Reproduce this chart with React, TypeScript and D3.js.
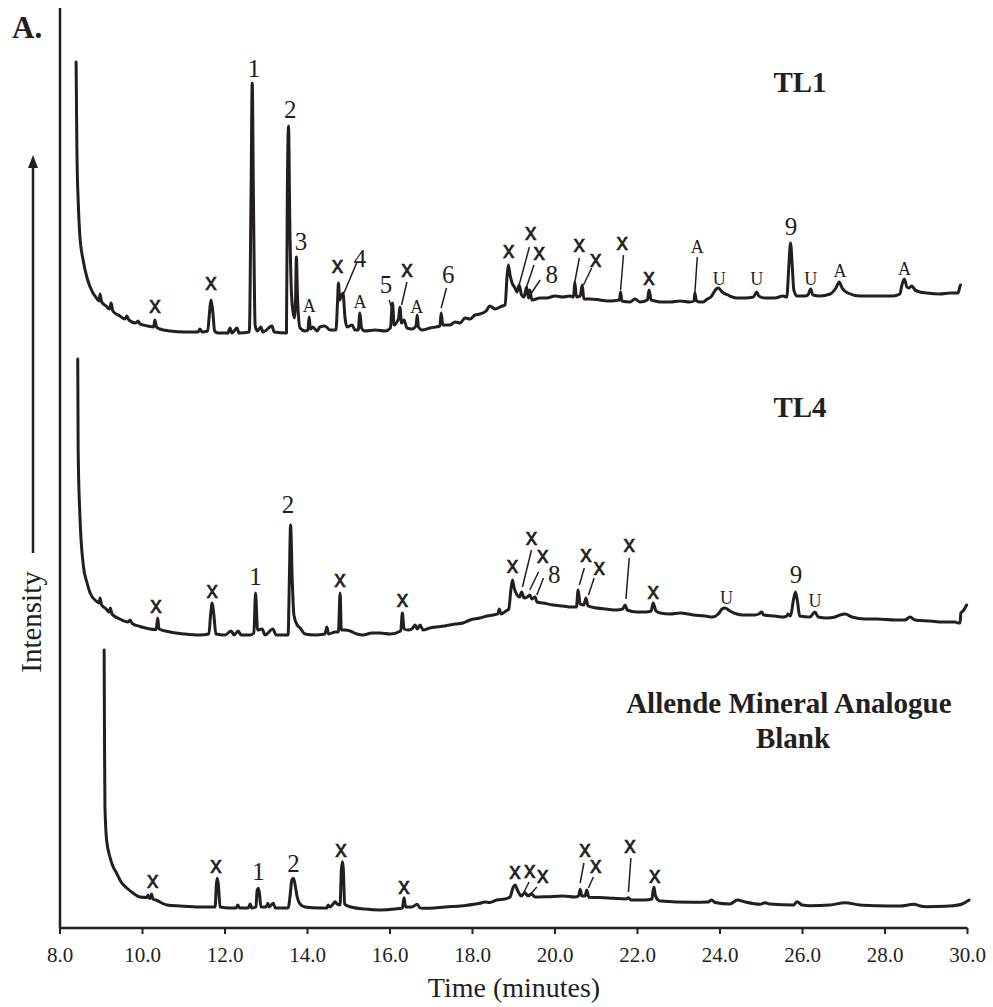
import React from "react";
import * as d3 from "d3";

// ---------- DATA (time in minutes, intensity in arbitrary stacked units) ----------
const xTicks = [8, 10, 12, 14, 16, 18, 20, 22, 24, 26, 28, 30];

const tl1Trace: [number, number][] = [
  [8.39, 866], [8.41, 778], [8.44, 728], [8.48, 693], [8.56, 668], [8.65, 651], [8.73, 641],
  [8.9, 629], [8.95, 627], [8.97, 634], [9.01, 626], [9.12, 622], [9.2, 619], [9.24, 625],
  [9.28, 617], [9.45, 612], [9.58, 609], [9.62, 612], [9.67, 608], [9.84, 605], [9.89, 607],
  [9.94, 604], [10.13, 602], [10.27, 601], [10.3, 608], [10.34, 601], [10.42, 599], [10.67, 597],
  [11.03, 596], [11.35, 596], [11.39, 599], [11.44, 596], [11.58, 597], [11.63, 618], [11.66, 628],
  [11.7, 618], [11.75, 597], [11.83, 595], [12.07, 595], [12.12, 600], [12.17, 595], [12.29, 600],
  [12.34, 595], [12.59, 596], [12.63, 728], [12.66, 845], [12.69, 728], [12.73, 603], [12.78, 597],
  [12.87, 601], [12.92, 596], [13.14, 602], [13.19, 596], [13.49, 595], [13.51, 728], [13.54, 802],
  [13.57, 708], [13.62, 628], [13.68, 610], [13.71, 628], [13.73, 671], [13.76, 628], [13.82, 600],
  [13.94, 597], [14.01, 598], [14.04, 611], [14.07, 599], [14.13, 601], [14.23, 597], [14.3, 601],
  [14.42, 602], [14.55, 598], [14.69, 598], [14.73, 628], [14.75, 645], [14.78, 628], [14.81, 631],
  [14.86, 635], [14.91, 610], [14.96, 601], [15.08, 603], [15.15, 598], [15.23, 598], [15.27, 615],
  [15.31, 600], [15.39, 597], [15.64, 598], [15.88, 597], [16.01, 600], [16.06, 625], [16.1, 603],
  [16.15, 605], [16.21, 610], [16.24, 621], [16.28, 605], [16.34, 608], [16.41, 600], [16.53, 599],
  [16.63, 602], [16.66, 613], [16.69, 601], [16.78, 598], [16.97, 600], [17.21, 602], [17.24, 615],
  [17.28, 603], [17.45, 603], [17.58, 606], [17.7, 605], [17.82, 610], [17.94, 609], [18.06, 613],
  [18.18, 614], [18.33, 617], [18.42, 622], [18.55, 619], [18.72, 622], [18.79, 623], [18.84, 653],
  [18.87, 663], [18.91, 653], [18.96, 645], [19.03, 640], [19.08, 636], [19.13, 643], [19.19, 633],
  [19.25, 631], [19.31, 641], [19.36, 630], [19.39, 638], [19.44, 628], [19.64, 630], [19.8, 630],
  [20.0, 632], [20.19, 631], [20.36, 632], [20.45, 631], [20.48, 646], [20.52, 631], [20.61, 632],
  [20.66, 643], [20.7, 629], [20.85, 629], [21.09, 628], [21.33, 627], [21.56, 628], [21.59, 636],
  [21.62, 627], [21.82, 626], [21.94, 629], [22.06, 626], [22.24, 628], [22.28, 638], [22.33, 628],
  [22.42, 627], [22.55, 626], [22.79, 626], [23.03, 627], [23.27, 626], [23.37, 627], [23.39, 635],
  [23.43, 627], [23.52, 626], [23.59, 626], [23.69, 629], [23.78, 631], [23.91, 639], [23.96, 640],
  [24.05, 636], [24.19, 633], [24.4, 630], [24.61, 630], [24.81, 631], [24.89, 636], [24.94, 632],
  [25.09, 630], [25.33, 630], [25.53, 632], [25.62, 631], [25.67, 663], [25.71, 685], [25.75, 663],
  [25.79, 638], [25.87, 632], [26.06, 632], [26.13, 633], [26.2, 639], [26.25, 633], [26.42, 632],
  [26.67, 634], [26.81, 640], [26.89, 646], [26.96, 640], [27.1, 635], [27.39, 632], [27.76, 632],
  [28.19, 632], [28.36, 634], [28.41, 643], [28.47, 649], [28.53, 641], [28.58, 640], [28.65, 642],
  [28.73, 638], [28.85, 636], [29.01, 635], [29.33, 634], [29.58, 635], [29.77, 635], [29.82, 642],
  [29.83, 643],
];

const tl4Trace: [number, number][] = [
  [8.43, 569], [8.44, 478], [8.48, 415], [8.57, 361], [8.65, 346], [8.73, 335], [8.89, 326.5],
  [8.95, 325], [8.97, 330], [9.01, 323], [9.12, 319], [9.19, 316], [9.22, 320], [9.26, 314],
  [9.45, 309], [9.65, 306], [9.7, 308], [9.75, 304.5], [9.94, 301.5], [10.18, 299], [10.33, 298.5],
  [10.37, 310], [10.4, 299], [10.67, 296], [11.03, 294], [11.39, 293], [11.61, 294], [11.65, 313],
  [11.69, 325], [11.73, 313], [11.78, 294], [12.0, 293], [12.15, 297], [12.22, 293], [12.32, 297],
  [12.39, 293], [12.61, 293], [12.7, 295], [12.74, 335], [12.79, 298], [12.9, 299], [12.97, 293],
  [13.16, 299], [13.24, 293], [13.53, 293], [13.56, 348], [13.59, 403], [13.63, 348], [13.67, 313],
  [13.75, 303], [13.82, 300], [13.94, 294], [14.18, 293], [14.42, 294], [14.47, 301], [14.51, 294],
  [14.67, 296], [14.75, 296], [14.79, 335], [14.82, 298], [14.91, 298], [15.03, 297], [15.2, 294],
  [15.35, 293], [15.56, 295], [15.76, 295], [16.0, 294], [16.26, 297], [16.3, 315], [16.34, 299],
  [16.44, 298], [16.53, 299], [16.61, 303], [16.66, 299], [16.73, 303], [16.8, 298], [16.97, 300],
  [17.33, 302], [17.58, 304], [17.77, 305], [17.94, 308], [18.18, 310], [18.35, 312], [18.5, 313],
  [18.61, 314], [18.65, 319], [18.69, 314], [18.81, 317], [18.88, 319], [18.93, 338], [18.97, 348],
  [19.01, 340], [19.08, 333], [19.14, 331], [19.19, 336], [19.25, 330], [19.33, 331], [19.39, 333],
  [19.44, 329], [19.52, 331], [19.56, 326], [19.71, 325], [19.95, 323], [20.19, 322], [20.42, 321],
  [20.52, 321], [20.56, 338], [20.61, 324], [20.7, 323], [20.75, 330], [20.8, 322], [21.01, 320],
  [21.24, 319], [21.49, 318], [21.64, 319], [21.7, 323], [21.75, 318], [21.98, 316], [22.21, 316],
  [22.33, 317], [22.38, 325], [22.45, 317], [22.55, 315], [22.79, 314], [23.03, 315], [23.35, 313],
  [23.64, 312], [23.81, 311], [23.96, 314], [24.05, 319], [24.12, 320], [24.24, 317], [24.41, 314],
  [24.55, 313], [24.84, 313], [24.94, 314], [25.01, 316], [25.06, 313], [25.33, 312], [25.53, 311],
  [25.62, 312], [25.65, 314], [25.71, 312], [25.78, 328], [25.83, 336], [25.88, 326], [25.93, 312],
  [26.18, 311], [26.25, 314], [26.3, 316], [26.38, 311], [26.59, 310], [26.79, 311], [26.91, 313],
  [27.03, 314], [27.2, 311], [27.52, 309], [27.8, 309], [28.24, 308], [28.48, 308], [28.61, 311],
  [28.73, 308], [29.09, 307], [29.41, 306], [29.58, 306], [29.7, 306], [29.77, 305], [29.82, 305],
  [29.84, 315], [29.89, 317], [29.98, 323],
];

const blankTrace: [number, number][] = [
  [9.07, 278], [9.08, 178], [9.09, 121], [9.13, 88], [9.21, 71], [9.28, 62], [9.37, 55], [9.48, 46],
  [9.62, 40], [9.77, 35], [9.94, 31], [10.11, 30.5], [10.13, 33], [10.17, 29.5], [10.21, 32],
  [10.22, 34], [10.25, 29], [10.33, 28], [10.42, 26], [10.59, 23], [10.91, 22], [11.39, 21],
  [11.64, 21], [11.76, 21], [11.79, 43], [11.81, 49.7], [11.84, 43], [11.88, 21], [12.12, 20],
  [12.27, 20], [12.31, 23], [12.35, 20], [12.56, 20], [12.61, 24], [12.65, 20], [12.75, 21],
  [12.78, 38], [12.81, 39.7], [12.84, 33], [12.87, 21], [12.99, 21], [13.04, 24.7], [13.07, 21],
  [13.17, 24.7], [13.22, 20], [13.53, 20], [13.58, 33], [13.62, 48], [13.66, 49.7], [13.7, 43],
  [13.75, 31], [13.82, 24], [13.94, 21], [14.3, 20], [14.47, 20], [14.5, 23], [14.55, 21],
  [14.62, 24], [14.67, 26.3], [14.72, 24], [14.79, 23], [14.82, 58], [14.85, 66.3], [14.87, 58],
  [14.9, 24], [15.03, 21.3], [15.39, 19], [15.76, 18], [16.12, 19], [16.3, 20], [16.34, 30.3],
  [16.38, 21], [16.53, 21], [16.66, 23.7], [16.73, 20], [16.97, 19.7], [17.33, 21], [17.77, 22.3],
  [18.18, 24.7], [18.3, 26], [18.42, 25.5], [18.59, 28], [18.79, 29], [18.91, 31], [18.98, 40],
  [19.03, 43], [19.1, 37], [19.18, 32], [19.27, 35.3], [19.345, 32], [19.43, 34], [19.52, 31],
  [19.8, 31.3], [20.2, 32], [20.48, 31], [20.57, 32], [20.61, 38.7], [20.65, 32], [20.73, 32],
  [20.77, 38], [20.82, 30.7], [21.09, 30.5], [21.41, 29.7], [21.72, 29], [21.78, 30.3], [21.84, 28],
  [22.18, 28], [22.35, 29], [22.38, 38], [22.4, 40.7], [22.43, 33], [22.5, 28], [22.55, 27],
  [23.35, 25.7], [23.71, 26], [23.8, 28], [23.88, 25.5], [24.24, 24], [24.42, 28], [24.61, 26],
  [24.97, 23.7], [25.09, 25.3], [25.21, 24], [25.78, 23], [25.87, 26.3], [25.99, 23], [26.18, 22.3],
  [26.67, 23], [27.03, 25.3], [27.39, 23], [27.8, 22.3], [28.36, 22], [28.7, 23.7], [28.85, 22],
  [29.01, 21.3], [29.45, 21.7], [29.65, 22.3], [29.87, 24], [30.04, 28],
];

// peak labels: [text, time, intensity(baseline of text)]
const tl1Labels: [string, number, number][] = [
  ["1", 12.7, 851], ["2", 13.58, 810], ["3", 13.84, 678], ["x", 10.3, 615], ["x", 11.66, 638],
  ["A", 14.04, 616], ["x", 14.73, 655], ["4", 15.27, 661], ["A", 15.27, 620], ["5", 15.9, 635],
  ["x", 16.41, 651], ["A", 16.65, 615], ["6", 17.41, 645], ["x", 18.88, 670], ["x", 19.41, 688],
  ["x", 19.62, 668], ["8", 19.92, 645], ["x", 20.59, 676], ["x", 20.99, 661], ["x", 21.63, 678],
  ["x", 22.28, 643], ["A", 23.45, 675], ["U", 23.98, 643], ["U", 24.89, 643], ["9", 25.72, 693],
  ["U", 26.2, 643], ["A", 26.91, 651], ["A", 28.47, 653],
];
const tl4Labels: [string, number, number][] = [
  ["x", 10.33, 315], ["x", 11.69, 330], ["1", 12.74, 343], ["2", 13.53, 415], ["x", 14.79, 341],
  ["x", 16.3, 321], ["x", 18.97, 355], ["x", 19.43, 383], ["x", 19.7, 365], ["8", 19.98, 345],
  ["x", 20.75, 366], ["x", 21.07, 353], ["x", 21.8, 376], ["x", 22.38, 329], ["U", 24.16, 324],
  ["9", 25.84, 345], ["U", 26.3, 321],
];
const blankLabels: [string, number, number][] = [
  ["x", 10.25, 40], ["x", 11.78, 55], ["1", 12.81, 48], ["2", 13.66, 56], ["x", 14.81, 71],
  ["x", 16.34, 34], ["x", 19.03, 49], ["x", 19.39, 50], ["x", 19.7, 45], ["x", 20.73, 71],
  ["x", 20.99, 55], ["x", 21.82, 75], ["x", 22.42, 45],
];

// leader lines: [t1, v1, t2, v2]
const tl1Leaders: [number, number, number, number][] = [
  [15.19, 665, 14.885, 635], [15.98, 628, 16.04, 620], [16.41, 646, 16.28, 623],
  [17.37, 640, 17.24, 620], [19.38, 681, 19.13, 643], [19.49, 663, 19.31, 641],
  [19.64, 648, 19.43, 635], [20.59, 670, 20.48, 646], [20.89, 660, 20.69, 643],
  [21.66, 673, 21.59, 638], [23.45, 671, 23.39, 635],
];
const tl4Leaders: [number, number, number, number][] = [
  [19.43, 378, 19.21, 341], [19.6, 356, 19.39, 338], [19.72, 350, 19.56, 333],
  [20.71, 360, 20.59, 343], [20.95, 350, 20.81, 333], [21.8, 370, 21.72, 329],
];
const blankLeaders: [number, number, number, number][] = [
  [19.37, 46, 19.25, 36], [19.56, 41, 19.41, 34], [20.7, 65, 20.61, 45],
  [20.93, 51, 20.81, 40], [21.84, 70, 21.78, 36],
];

// sample titles: [text, time (center), intensity (baseline)]
const sampleTitles: [string, number, number][] = [
  ["TL1", 25.94, 836], ["TL4", 25.94, 511], ["Allende Mineral Analogue", 25.67, 215], ["Blank", 25.77, 180],
];

// ---------- CHART ----------
const W = 993;
const H = 1007;
const INK = "#231f20";
const SERIF = "'Liberation Serif', 'Times New Roman', Times, serif";
const SANS = "'Liberation Sans', Arial, Helvetica, sans-serif";

export default function App() {
  const x = d3.scaleLinear().domain([8, 30]).range([60, 967.5]);
  const y = d3.scaleLinear().domain([0, 920]).range([928, 8]);
  const line = d3
    .line<[number, number]>()
    .x((d) => x(d[0]))
    .y((d) => y(d[1]))
    .curve(d3.curveMonotoneX);

  const traces = [tl1Trace, tl4Trace, blankTrace];
  const labels = [...tl1Labels, ...tl4Labels, ...blankLabels];
  const leaders = [...tl1Leaders, ...tl4Leaders, ...blankLeaders];
  const fmt = d3.format(".1f");

  const labelStyle = (s: string) => {
    if (s === "x")
      return { fontFamily: SANS, fontSize: 23, stroke: INK, strokeWidth: 0.6 };
    if (s === "A" || s === "U") return { fontFamily: SERIF, fontSize: 18 };
    return { fontFamily: SERIF, fontSize: 25 };
  };

  return (
    <svg
      width={W}
      height={H}
      viewBox={`0 0 ${W} ${H}`}
      style={{ position: "absolute", left: 0, top: 0, background: "#fff" }}
    >
      <rect x={0} y={0} width={W} height={H} fill="#fff" />
      {/* panel letter */}
      <text x={12} y={38} fontFamily={SERIF} fontWeight="bold" fontSize={31} fill={INK}>
        A.
      </text>

      {/* axes */}
      <line x1={x(8)} x2={x(8)} y1={8} y2={y(0)} stroke={INK} strokeWidth={2.5} />
      <line x1={x(8) - 1} x2={x(30)} y1={y(0)} y2={y(0)} stroke={INK} strokeWidth={2.5} />
      {xTicks.map((t) => (
        <g key={t}>
          <line x1={x(t)} x2={x(t)} y1={y(0)} y2={y(0) + 6} stroke={INK} strokeWidth={2} />
          <text
            x={x(t)}
            y={962}
            textAnchor="middle"
            fontFamily={SERIF}
            fontSize={21}
            fill={INK}
          >
            {fmt(t)}
          </text>
        </g>
      ))}
      <text x={514} y={997} textAnchor="middle" fontFamily={SERIF} fontSize={28} fill={INK}>
        Time (minutes)
      </text>

      {/* y label + arrow */}
      <text
        transform="translate(40.5,622) rotate(-90)"
        textAnchor="middle"
        fontFamily={SERIF}
        fontSize={29}
        fill={INK}
      >
        Intensity
      </text>
      <line x1={33} x2={33} y1={553} y2={166} stroke={INK} strokeWidth={2.5} />
      <polygon points="33,155 28,168 38,168" fill={INK} />

      {/* traces */}
      {traces.map((tr, i) => (
        <path
          key={i}
          d={line(tr) || ""}
          fill="none"
          stroke={INK}
          strokeWidth={3}
          strokeLinejoin="round"
          strokeLinecap="round"
        />
      ))}

      {/* leader lines */}
      {leaders.map((l, i) => (
        <line
          key={i}
          x1={x(l[0])}
          y1={y(l[1])}
          x2={x(l[2])}
          y2={y(l[3])}
          stroke={INK}
          strokeWidth={1.5}
        />
      ))}

      {/* peak labels */}
      {labels.map((l, i) => (
        <text
          key={i}
          x={x(l[1])}
          y={y(l[2])}
          textAnchor="middle"
          fill={INK}
          {...labelStyle(l[0])}
        >
          {l[0]}
        </text>
      ))}

      {/* sample titles */}
      {sampleTitles.map((s, i) => (
        <text
          key={i}
          x={x(s[1])}
          y={y(s[2])}
          textAnchor="middle"
          fontFamily={SERIF}
          fontWeight="bold"
          fontSize={29}
          fill={INK}
        >
          {s[0]}
        </text>
      ))}
    </svg>
  );
}
